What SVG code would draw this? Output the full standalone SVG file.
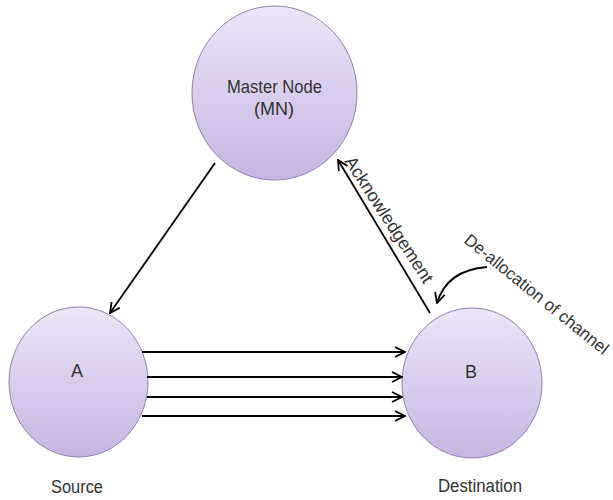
<svg xmlns="http://www.w3.org/2000/svg" width="613" height="500" viewBox="0 0 613 500">
<defs>
<linearGradient id="g" x1="0" y1="0" x2="0" y2="1">
<stop offset="0" stop-color="#ece6f6"/>
<stop offset="1" stop-color="#c6b5e2"/>
</linearGradient>
<marker id="ah" viewBox="0 0 12 12" refX="11" refY="6" markerWidth="12" markerHeight="12" markerUnits="userSpaceOnUse" orient="auto">
<path d="M1 1 L11 6 L1 11" fill="none" stroke="#000" stroke-width="1.8"/>
</marker>
<style>
.node{fill:url(#g);stroke:#9080b4;stroke-width:1}
.t{font-family:"Liberation Sans",Arial,sans-serif;font-size:18px;fill:#333}
.c{fill:none;stroke:#000;stroke-width:1.8;marker-end:url(#ah)}
</style>
</defs>
<rect width="613" height="500" fill="#fff"/>
<g id="mn">
<ellipse class="node" cx="274.5" cy="93" rx="82.5" ry="87"/>
<text class="t" x="227" y="93" textLength="95" lengthAdjust="spacingAndGlyphs" style="font-size:19px">Master Node</text>
<text class="t" x="254" y="115" textLength="40" lengthAdjust="spacingAndGlyphs" style="font-size:19px">(MN)</text>
</g>
<g id="a">
<ellipse class="node" cx="78.5" cy="382" rx="69.5" ry="75"/>
<text class="t" x="77" y="377" text-anchor="middle">A</text>
</g>
<g id="b">
<ellipse class="node" cx="472" cy="383" rx="70" ry="75"/>
<text class="t" x="471" y="378" text-anchor="middle">B</text>
</g>
<g id="connectors">
<path class="c" d="M215 163 L110 313"/>
<path class="c" d="M430 313 L338 160"/>
<path class="c" d="M487 267 Q447 270 437 303"/>
<path class="c" d="M142 352 L405 352"/>
<path class="c" d="M147 377 L402 377"/>
<path class="c" d="M147 397 L402 397"/>
<path class="c" d="M142 416 L405 416"/>
</g>
<g id="labels">
<text class="t" x="51" y="493" textLength="52" lengthAdjust="spacingAndGlyphs">Source</text>
<text class="t" x="438" y="492" textLength="84" lengthAdjust="spacingAndGlyphs">Destination</text>
<text class="t" transform="translate(384 223) rotate(57)" text-anchor="middle">Acknowledgement</text>
<text class="t" transform="translate(463 242) rotate(39)" textLength="180" lengthAdjust="spacingAndGlyphs" style="font-size:17px">De-allocation of channel</text>
</g>
</svg>
